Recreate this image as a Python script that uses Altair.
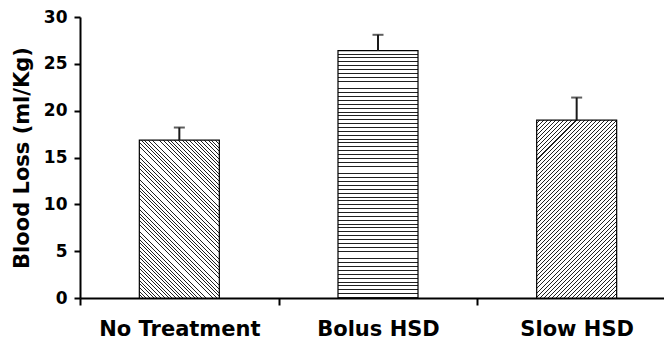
import altair as alt
import pandas as pd

# ---- data ----
groups = ["No Treatment", "Bolus HSD", "Slow HSD"]
means = [16.85, 26.4, 19.0]
upper = [18.2, 28.1, 21.4]
hatch = ["back", "horiz", "fwd"]

Y_MAX = 30
Y_TICKS = [0, 5, 10, 15, 20, 25, 30]
PLOT_W, PLOT_H = 584, 281
BAND_RANGE = 596
BAR_W = 80
FONT = "DejaVu Sans"
N_STRIPES = 64


def stripe_stops(n, frac, color):
    stops = []
    for k in range(n):
        a = round(k / n, 6)
        m = round((k + 1 - frac) / n, 6)
        b = round((k + 1) / n, 6)
        stops += [
            alt.GradientStop(offset=a, color="white"),
            alt.GradientStop(offset=m, color="white"),
            alt.GradientStop(offset=m, color=color),
            alt.GradientStop(offset=b, color=color),
        ]
    return stops


def hatch_fill(kind, value):
    # bar size in pixels (only used to orient the hatch at 45 degrees)
    w = BAR_W
    h = value / Y_MAX * PLOT_H
    stops = stripe_stops(N_STRIPES, 0.25, "#202020")
    if kind == "horiz":
        return alt.LinearGradient(gradient="linear", stops=stops, x1=0, y1=0, x2=0, y2=1)
    s = (w + h) / (w * w + h * h)
    if kind == "back":
        return alt.LinearGradient(gradient="linear", stops=stops,
                                  x1=0, y1=1, x2=s * w, y2=1 - s * h)
    return alt.LinearGradient(gradient="linear", stops=stops,
                              x1=0, y1=0, x2=s * w, y2=s * h)


df = pd.DataFrame({"group": groups, "mean": means, "upper": upper})

x_axis = alt.Axis(title=None, labelAngle=0, labelFontSize=21, labelFontWeight="bold",
                  labelPadding=13, tickSize=7, tickWidth=2, domainWidth=2,
                  tickBand="extent", labelFont=FONT, labelColor="black",
                  domainColor="black", tickColor="black")
y_axis = alt.Axis(title="Blood Loss (ml/Kg)", values=Y_TICKS, tickSize=6, tickWidth=2,
                  domainWidth=2, labelFontSize=17, labelFontWeight="bold", labelPadding=7,
                  titleFontSize=21, titleFontWeight="bold", titlePadding=11,
                  labelFont=FONT, titleFont=FONT, labelColor="black", titleColor="black",
                  domainColor="black", tickColor="black", grid=False)

x_scale = alt.Scale(domain=groups, range=[0, BAND_RANGE], paddingInner=0, paddingOuter=0)
y_scale = alt.Scale(domain=[0, Y_MAX], nice=False)

X = alt.X("group:N", sort=groups, scale=x_scale, axis=x_axis)
base = alt.Chart(df)

bars = [
    base.transform_filter(alt.datum.group == g)
    .mark_bar(width=BAR_W, fill=hatch_fill(k, v), stroke="black", strokeWidth=1.2)
    .encode(x=X, y=alt.Y("mean:Q", scale=y_scale, axis=y_axis))
    for g, k, v in zip(groups, hatch, means)
]

stems = base.mark_rule(color="#1a1a1a", strokeWidth=2).encode(
    x=X,
    y=alt.Y("mean:Q", scale=y_scale, axis=y_axis),
    y2="upper:Q",
)
caps = base.mark_tick(color="#1a1a1a", thickness=2, size=11).encode(
    x=X,
    y=alt.Y("upper:Q", scale=y_scale, axis=y_axis),
)

chart = alt.layer(*bars, stems, caps).properties(
    width=PLOT_W,
    height=PLOT_H,
    autosize=alt.AutoSizeParams(type="none"),
    padding={"left": 72, "top": 9, "right": 0, "bottom": 45},
    background="white",
).configure_view(stroke=None)

chart.save("out.html", embed_options={"renderer": "svg", "actions": False})
